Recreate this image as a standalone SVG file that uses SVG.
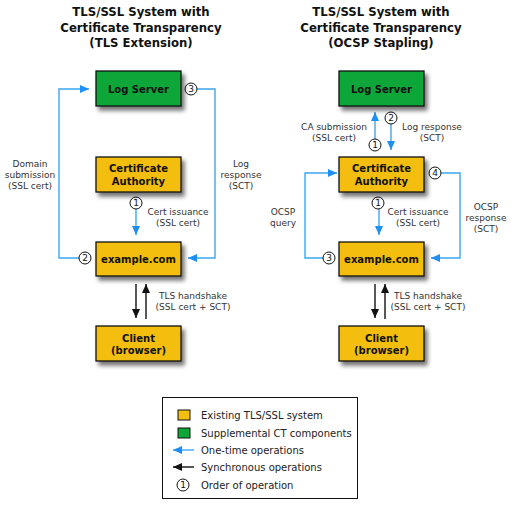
<svg xmlns="http://www.w3.org/2000/svg" width="517" height="507" viewBox="0 0 517 507">
<style>
.title{font-family:"DejaVu Sans",Verdana,sans-serif;font-weight:bold;font-size:11.7px;fill:#111;text-anchor:middle}
.box{stroke:#111;stroke-width:1.3}
.y{fill:#F3BE10}
.g{fill:#0CA637}
.bt{font-family:"DejaVu Sans",Verdana,sans-serif;font-weight:bold;font-size:10px;fill:#111;text-anchor:middle}
.lbl{font-family:"DejaVu Sans",Verdana,sans-serif;font-size:9px;fill:#333;text-anchor:middle}
.leg{font-family:"DejaVu Sans",Verdana,sans-serif;font-size:10px;fill:#222}
.blue{fill:none;stroke:#3AA6F5;stroke-width:1.4}
.black{fill:none;stroke:#111;stroke-width:1.4}
.num circle{fill:#fff;stroke:#111;stroke-width:1}
.num text{font-family:"DejaVu Sans",Verdana,sans-serif;font-size:9px;fill:#111;text-anchor:middle}
</style>
<defs>
<filter id="sh" x="-20%" y="-20%" width="150%" height="160%">
<feDropShadow dx="3" dy="4" stdDeviation="2.2" flood-color="#000" flood-opacity="0.55"/>
</filter>
<marker id="ab" markerUnits="userSpaceOnUse" markerWidth="9" markerHeight="8" refX="9" refY="4" orient="auto">
<path d="M0,0 L9,4 L0,8 z" fill="#1E8FF5"/>
</marker>
<marker id="ak" markerUnits="userSpaceOnUse" markerWidth="9" markerHeight="8" refX="9" refY="4" orient="auto">
<path d="M0,0 L9,4 L0,8 z" fill="#111"/>
</marker>
</defs>
<rect width="517" height="507" fill="#fff"/>

<text class="title" x="141" y="16">TLS/SSL System with</text>
<text class="title" x="141" y="31.5">Certificate Transparency</text>
<text class="title" x="141" y="47">(TLS Extension)</text>
<text class="title" x="381" y="16">TLS/SSL System with</text>
<text class="title" x="381" y="31.5">Certificate Transparency</text>
<text class="title" x="381" y="47">(OCSP Stapling)</text>

<g id="connectors">
<path class="blue" d="M79,258 H59 V89 H89" marker-end="url(#ab)"/>
<path class="blue" d="M197,89 H215 V258 H188" marker-end="url(#ab)"/>
<path class="blue" d="M136,209 V235" marker-end="url(#ab)"/>
<path class="black" d="M136,284 V318" marker-end="url(#ak)"/>
<path class="black" d="M146,319 V284" marker-end="url(#ak)"/>
<path class="blue" d="M375,139 V112" marker-end="url(#ab)"/>
<path class="blue" d="M391,124 V150" marker-end="url(#ab)"/>
<path class="blue" d="M323,258 H305 V173 H337" marker-end="url(#ab)"/>
<path class="blue" d="M441,173 H460 V258 H431" marker-end="url(#ab)"/>
<path class="blue" d="M379,209 V235" marker-end="url(#ab)"/>
<path class="black" d="M375,284 V318" marker-end="url(#ak)"/>
<path class="black" d="M385,319 V284" marker-end="url(#ak)"/>

<text class="lbl" x="30" y="167">Domain</text>
<text class="lbl" x="30" y="178">submission</text>
<text class="lbl" x="30" y="189">(SSL cert)</text>
<text class="lbl" x="241" y="167">Log</text>
<text class="lbl" x="241" y="178">response</text>
<text class="lbl" x="241" y="189">(SCT)</text>
<text class="lbl" x="178" y="215">Cert issuance</text>
<text class="lbl" x="178" y="226">(SSL cert)</text>
<text class="lbl" x="193" y="299">TLS handshake</text>
<text class="lbl" x="193" y="310">(SSL cert + SCT)</text>
<text class="lbl" x="334" y="130">CA submission</text>
<text class="lbl" x="334" y="141">(SSL cert)</text>
<text class="lbl" x="432" y="130">Log response</text>
<text class="lbl" x="432" y="141">(SCT)</text>
<text class="lbl" x="283" y="215">OCSP</text>
<text class="lbl" x="283" y="226">query</text>
<text class="lbl" x="486" y="210">OCSP</text>
<text class="lbl" x="486" y="221">response</text>
<text class="lbl" x="486" y="232">(SCT)</text>
<text class="lbl" x="418" y="215">Cert issuance</text>
<text class="lbl" x="418" y="226">(SSL cert)</text>
<text class="lbl" x="428" y="299">TLS handshake</text>
<text class="lbl" x="428" y="310">(SSL cert + SCT)</text>

<g class="num"><circle cx="85" cy="258" r="6"/><text x="85" y="261.3">2</text></g>
<g class="num"><circle cx="191" cy="89" r="6"/><text x="191" y="92.3">3</text></g>
<g class="num"><circle cx="136" cy="203" r="6"/><text x="136" y="206.3">1</text></g>
<g class="num"><circle cx="375" cy="145" r="6"/><text x="375" y="148.3">1</text></g>
<g class="num"><circle cx="391" cy="118" r="6"/><text x="391" y="121.3">2</text></g>
<g class="num"><circle cx="329" cy="258" r="6"/><text x="329" y="261.3">3</text></g>
<g class="num"><circle cx="435" cy="173" r="6"/><text x="435" y="176.3">4</text></g>
<g class="num"><circle cx="378" cy="203" r="6"/><text x="378" y="206.3">1</text></g>
</g>

<g id="log-left"><rect class="box g" x="96" y="71" width="85" height="35" filter="url(#sh)"/><text class="bt" x="138.5" y="92.5">Log Server</text></g>
<g id="ca-left"><rect class="box y" x="96" y="157" width="85" height="35" filter="url(#sh)"/><text class="bt" x="138.5" y="172">Certificate</text><text class="bt" x="138.5" y="184.5">Authority</text></g>
<g id="example-left"><rect class="box y" x="96" y="242" width="85" height="34" filter="url(#sh)"/><text class="bt" x="138.5" y="262.5">example.com</text></g>
<g id="client-left"><rect class="box y" x="96" y="326" width="85" height="35" filter="url(#sh)"/><text class="bt" x="138.5" y="342">Client</text><text class="bt" x="138.5" y="354">(browser)</text></g>

<g id="log-right"><rect class="box g" x="339" y="71" width="85" height="35" filter="url(#sh)"/><text class="bt" x="381.5" y="92.5">Log Server</text></g>
<g id="ca-right"><rect class="box y" x="339" y="157" width="85" height="35" filter="url(#sh)"/><text class="bt" x="381.5" y="172">Certificate</text><text class="bt" x="381.5" y="184.5">Authority</text></g>
<g id="example-right"><rect class="box y" x="339" y="242" width="85" height="34" filter="url(#sh)"/><text class="bt" x="381.5" y="262.5">example.com</text></g>
<g id="client-right"><rect class="box y" x="339" y="326" width="85" height="35" filter="url(#sh)"/><text class="bt" x="381.5" y="342">Client</text><text class="bt" x="381.5" y="354">(browser)</text></g>

<g id="legend">
<rect x="162.5" y="397.5" width="195" height="101" fill="#fff" stroke="#111" stroke-width="1"/>
<rect x="178" y="410" width="12" height="10" class="y" stroke="#111" stroke-width="1"/>
<rect x="178" y="428" width="12" height="10" class="g" stroke="#111" stroke-width="1"/>
<path class="blue" d="M194,450 H173" marker-end="url(#ab)"/>
<path class="black" d="M194,467 H173" marker-end="url(#ak)"/>
<g class="num"><circle cx="183" cy="485" r="6"/><text x="183" y="488.3">1</text></g>
<text class="leg" x="201" y="418.5">Existing TLS/SSL system</text>
<text class="leg" x="201" y="436.5">Supplemental CT components</text>
<text class="leg" x="201" y="454">One-time operations</text>
<text class="leg" x="201" y="471">Synchronous operations</text>
<text class="leg" x="201" y="488.5">Order of operation</text>
</g>
</svg>
